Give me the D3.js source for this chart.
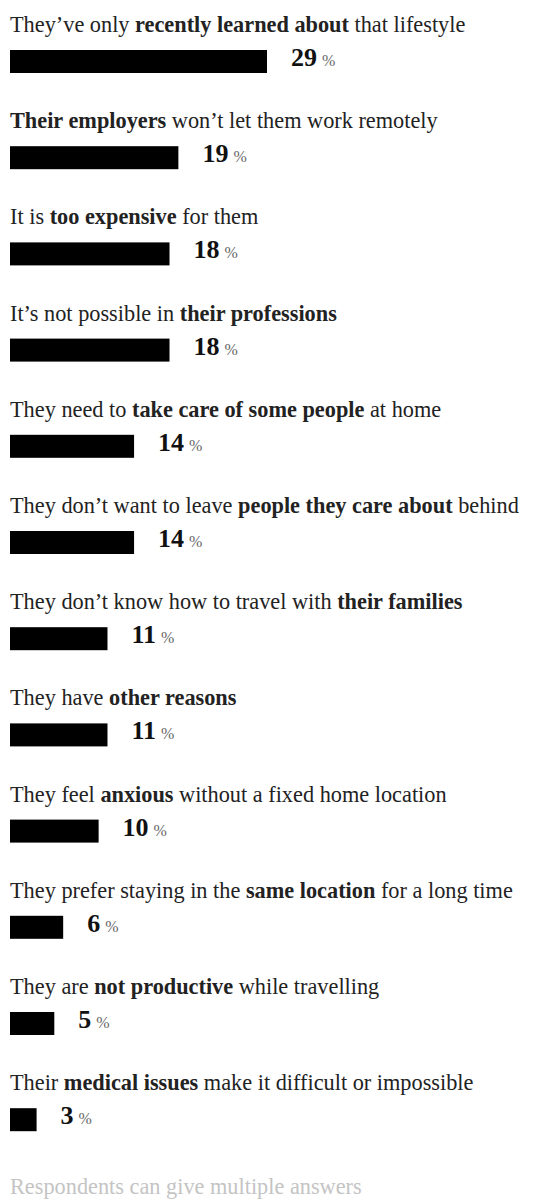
<!DOCTYPE html>
<meta charset="utf-8">
<style>
body { margin: 0; background: #fff; }
svg text { font-family: "Liberation Serif", "Times New Roman", serif; }
.label { font-size: 22.3px; fill: #222; }
.label .b { font-weight: bold; }
.value { font-size: 26px; font-weight: bold; fill: #111; }
.value .pct { font-size: 16px; font-weight: normal; fill: #666; }
.note { font-size: 22.3px; fill: #c4c4c4; }
</style>
<svg width="544" height="1201"></svg>
<script src="https://d3js.org/d3.v7.min.js"></script>
<script>
var labelPre = ["They\u2019ve only ", "", "It is ", "It\u2019s not possible in ", "They need to ",
  "They don\u2019t want to leave ", "They don\u2019t know how to travel with ", "They have ",
  "They feel ", "They prefer staying in the ", "They are ", "Their "];
var labelBold = ["recently learned about", "Their employers", "too expensive", "their professions",
  "take care of some people", "people they care about", "their families", "other reasons",
  "anxious", "same location", "not productive", "medical issues"];
var labelPost = [" that lifestyle", " won\u2019t let them work remotely", " for them", "",
  " at home", " behind", "", "", " without a fixed home location", " for a long time",
  " while travelling", " make it difficult or impossible"];
var values = [29, 19, 18, 18, 14, 14, 11, 11, 10, 6, 5, 3];
var note = "Respondents can give multiple answers";

var svg = d3.select("svg"),
    left = 10,
    rowH = 96.2;

var x = d3.scaleLinear()
    .domain([0, d3.max(values)])
    .range([0, 257]);

var y = d3.scaleBand()
    .domain(d3.range(values.length))
    .range([0, values.length * rowH]);

var row = svg.selectAll("g.row")
  .data(values)
  .enter().append("g")
    .attr("class", "row")
    .attr("transform", function(d, i) { return "translate(" + left + "," + y(i) + ")"; });

var label = row.append("text")
    .attr("class", "label")
    .attr("y", 32);
label.append("tspan").text(function(d, i) { return labelPre[i]; });
label.append("tspan").attr("class", "b").text(function(d, i) { return labelBold[i]; });
label.append("tspan").text(function(d, i) { return labelPost[i]; });

row.append("rect")
    .attr("y", 50)
    .attr("height", 23)
    .attr("width", function(d) { return x(d); })
    .attr("fill", "#000");

var val = row.append("text")
    .attr("class", "value")
    .attr("x", function(d) { return x(d) + 24; })
    .attr("y", 66);
val.append("tspan").text(function(d) { return d; });
val.append("tspan").attr("class", "pct").attr("dx", 5).text("%");

svg.append("text")
    .attr("class", "note")
    .attr("x", left)
    .attr("y", 1194)
    .text(note);
</script>
